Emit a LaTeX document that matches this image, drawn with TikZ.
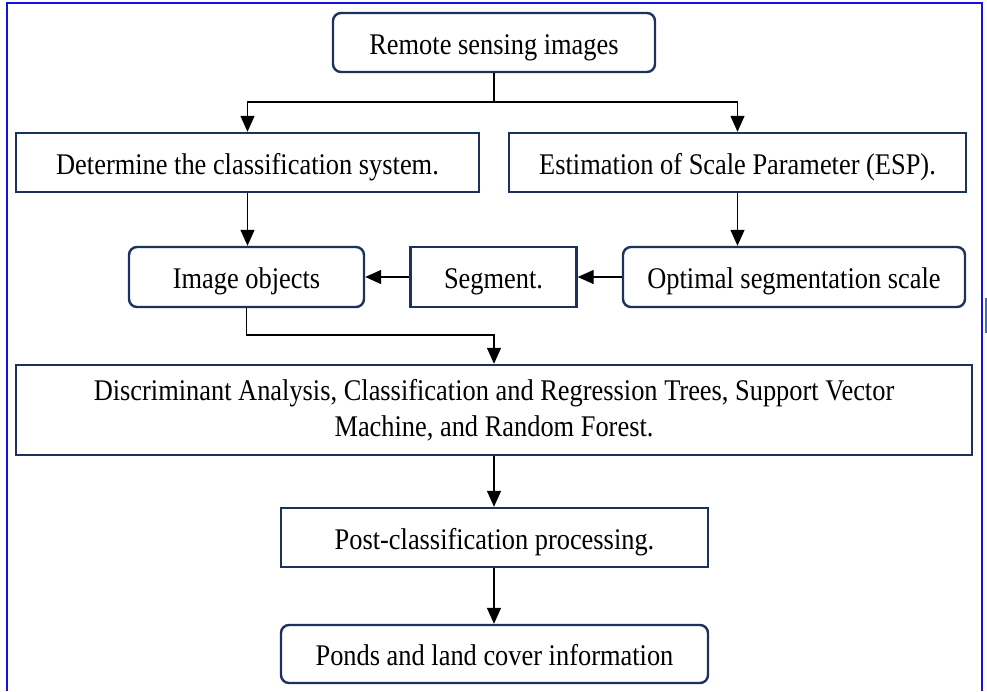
\documentclass[tikz,border=0pt]{standalone}
\usepackage{fontspec}
\setmainfont[FakeStretch=0.88]{Liberation Serif}
\usepackage{tikz}
\usetikzlibrary{calc,positioning,arrows.meta}

\definecolor{boxnavy}{RGB}{28,50,92}
\definecolor{framblue}{RGB}{20,20,225}
\definecolor{markblue}{RGB}{70,110,170}

\tikzset{
	widebox/.style={draw=boxnavy,line width=2.4pt,fill=white,inner sep=0pt,align=center,
		font=\fontsize{30}{36}\selectfont},
	stepbox/.style={widebox,text height=23pt,text depth=0pt},
	roundbox/.style={stepbox,rounded corners=8pt},
	flow/.style={line width=1.4pt,-{Triangle[length=16pt,width=14pt]}},
	plain/.style={line width=1.4pt}
}

\begin{document}
\begin{tikzpicture}[x=1pt,y=-1pt]
		\useasboundingbox (0,0) rectangle (987,691);
		% outer frame
		\draw[framblue,line width=2pt] (7,691) -- (7,3) -- (982,3) -- (982,691);
		\draw[markblue,line width=3pt] (986,298) -- (986,333);

		% boxes
		\node[roundbox,minimum width=322pt,minimum height=59pt] (remote) at (494,42.5) {Remote sensing images};
		\node[stepbox,minimum width=463pt,minimum height=59pt] (system) at (247.5,162.5) {Determine the classification system.};
		\node[stepbox,minimum width=457pt,minimum height=59pt] (esp) at (737.5,162.5) {Estimation of Scale Parameter (ESP).};
		\node[roundbox,minimum width=235pt,minimum height=60pt] (objects) at (246.5,277) {Image objects};
		\node[stepbox,minimum width=166pt,minimum height=60pt] (segment) at (493.5,277) {Segment.};
		\node[roundbox,minimum width=342pt,minimum height=60pt] (scale) at (794,277) {Optimal segmentation scale};
		\node[widebox,minimum width=956pt,minimum height=90pt] (methods) at (494,410) {Discriminant Analysis, Classification and Regression Trees, Support Vector\\Machine, and Random Forest.};
		\node[stepbox,minimum width=427pt,minimum height=59pt] (post) at (494.5,537.5) {Post-classification processing.};
		\node[roundbox,minimum width=427pt,minimum height=58pt] (ponds) at (494.5,654) {Ponds and land cover information};

		% connectors
		\coordinate (split) at (494,102);
		\coordinate (merge) at (494,335);
		\draw[plain] (remote.south) -- (split);
		\draw[flow] (split) -| (system.north);
		\draw[flow] (split) -| (esp.north);
		\draw[flow] (system.south) -- (objects.north -| system.south);
		\draw[flow] (esp.south) -- (esp.south |- scale.north);
		\draw[flow] (scale.west) -- (segment.east);
		\draw[flow] (segment.west) -- (objects.east);
		\draw[flow] (objects.south) |- (merge) -- (methods.north -| merge);
		\draw[flow] (methods.south) -- (post.north -| methods.south);
		\draw[flow] (post.south -| methods.south) -- (ponds.north -| methods.south);
	\end{tikzpicture}
\end{document}
